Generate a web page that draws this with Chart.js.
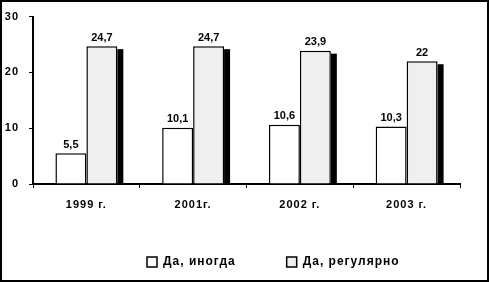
<!DOCTYPE html>
<html>
<head>
<meta charset="utf-8">
<script src="https://cdn.jsdelivr.net/npm/chart.js@4/dist/chart.umd.min.js"></script>
<style>
  html, body { margin: 0; padding: 0; background: #fff; }
  #wrap { width: 489px; height: 282px; position: relative; }
</style>
</head>
<body>
<div id="wrap"><canvas id="myChart" width="489" height="282"></canvas></div>
<script>
"use strict"
// Daten
const years = ['1999 г.', '2001г.', '2002 г.', '2003 г.'];
const sometimes = [5.5, 10.1, 10.6, 10.3];   // Да, иногда
const regularly = [24.7, 24.7, 23.9, 22];    // Да, регулярно
const yTicks = [0, 10, 20, 30];

const fontFamily = 'Arial, "Liberation Sans", sans-serif';
const fontMain = { family: fontFamily, size: 11, weight: 'bold' };

// Schatten rechts neben den grauen Balken
const shadowPlugin = {
    id: 'shadow',
    beforeDatasetDraw(chart, args) {
        if (args.index !== 1) return;
        const ctx = chart.ctx;
        ctx.save();
        ctx.fillStyle = '#000';
        args.meta.data.forEach(bar => {
            const p = bar.getProps(['x', 'y', 'base', 'width'], true);
            const right = p.x + p.width / 2;
            ctx.fillRect(right, p.y + 3, 6, p.base - p.y - 3);
        });
        ctx.restore();
    }
};

// Werte über den Balken, mit Komma
const labelPlugin = {
    id: 'valueLabels',
    afterDatasetsDraw(chart) {
        const ctx = chart.ctx;
        ctx.save();
        ctx.letterSpacing = '0px';
        ctx.font = 'bold 11px ' + fontFamily;
        ctx.fillStyle = '#000';
        ctx.textAlign = 'center';
        ctx.textBaseline = 'bottom';
        chart.data.datasets.forEach((ds, i) => {
            chart.getDatasetMeta(i).data.forEach((bar, j) => {
                const txt = String(ds.data[j]).replace('.', ',');
                ctx.fillText(txt, bar.x, bar.y - 3);
            });
        });
        ctx.restore();
    }
};

// Sperrschrift, Rahmen, Legende verschieben
const framePlugin = {
    id: 'frame',
    beforeLayout(chart) { chart.ctx.letterSpacing = '1px'; },
    beforeDraw(chart) { chart.ctx.letterSpacing = '1px'; },
    afterLayout(chart) {
        const lg = chart.legend;
        lg.left += 96; lg.right += 96;
        lg.top -= 4; lg.bottom -= 4;
    },
    afterDraw(chart) {
        const ctx = chart.ctx;
        ctx.save();
        ctx.strokeStyle = '#000';
        ctx.lineWidth = 2;
        ctx.strokeRect(1, 1, chart.width - 2, chart.height - 2);
        ctx.restore();
    }
};

const config = {
    type: 'bar',
    data: {
        labels: years,
        datasets: [
            {
                label: 'Да, иногда',
                data: sometimes,
                backgroundColor: '#ffffff',
                borderColor: '#000000',
                borderWidth: 1.5,
                categoryPercentage: 0.58,
                barPercentage: 1.0
            },
            {
                label: 'Да, регулярно',
                data: regularly,
                backgroundColor: '#efefef',
                borderColor: '#000000',
                borderWidth: 1.5,
                categoryPercentage: 0.58,
                barPercentage: 1.0
            }
        ]
    },
    options: {
        responsive: false,
        animation: false,
        layout: { padding: { top: 14, right: 29, bottom: 0, left: 0 } },
        plugins: {
            legend: {
                position: 'bottom',
                align: 'start',
                labels: {
                    boxWidth: 10,
                    boxHeight: 10,
                    padding: 51,
                    color: '#000',
                    font: { family: fontFamily, size: 12, weight: 'bold' }
                }
            },
            tooltip: { enabled: false }
        },
        scales: {
            x: {
                grid: { drawOnChartArea: false, color: '#000', tickLength: 4, tickWidth: 1 },
                border: { color: '#000', width: 2 },
                ticks: { color: '#000', font: fontMain, padding: 10, maxRotation: 0 },
                afterFit(scale) { scale.height = 25; }
            },
            y: {
                min: 0,
                max: 30,
                afterBuildTicks(scale) { scale.ticks = yTicks.map(v => ({ value: v })); },
                grid: { drawOnChartArea: false, color: '#000', tickLength: 4, tickWidth: 1 },
                border: { color: '#000', width: 2 },
                ticks: { color: '#000', font: fontMain, padding: 10 },
                afterFit(scale) { scale.width = 33; }
            }
        }
    },
    plugins: [shadowPlugin, labelPlugin, framePlugin]
};

new Chart(document.getElementById('myChart'), config);
</script>
</body>
</html>
